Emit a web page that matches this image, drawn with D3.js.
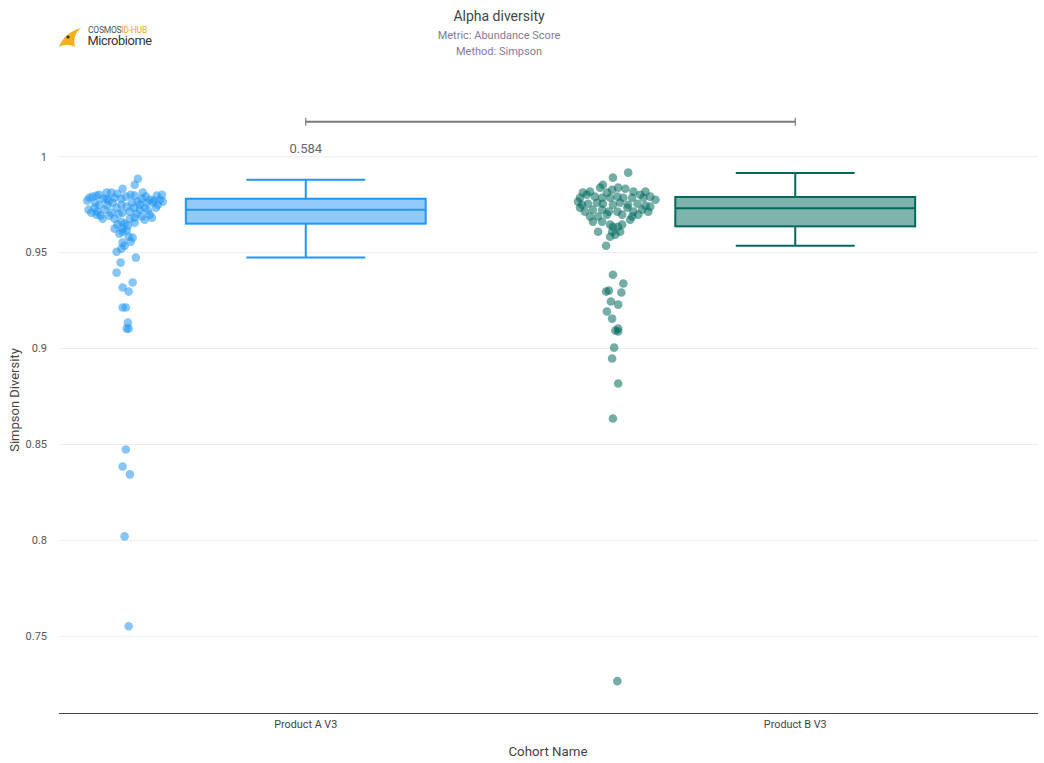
<!DOCTYPE html>
<html><head><meta charset="utf-8">
<script src="https://cdn.jsdelivr.net/npm/d3@7"></script>
<style>body{margin:0;background:#fff;font-family:Roboto,"Noto Sans",sans-serif;}</style>
</head><body>
<svg id="chart" width="1044" height="763"></svg>
<script>
const categories = ["Product A V3", "Product B V3"];
const colors = ["#2196F3", "#00695C"];
const yTicks = [0.75, 0.8, 0.85, 0.9, 0.95, 1];
// box stats: [lowWhisker, q1, median, q3, highWhisker]
const boxA = [0.9474, 0.9651, 0.9724, 0.9781, 0.9880];
const boxB = [0.9536, 0.9637, 0.9731, 0.9790, 0.9915];
const pValue = "0.584";
const bracketLevel = 1.0182;

const valuesA = [0.9885,0.9854,0.9833,0.9792,0.9786,0.9797,0.9813,0.9813,0.9781,0.9786,0.9781,0.9802,0.9797,0.9813,0.9781,0.9776,0.9771,0.9802,0.9766,0.9760,
0.9750,0.9745,0.9760,0.9750,0.9760,0.9766,0.9760,0.9760,0.9708,0.9714,0.9677,0.9708,0.9703,0.9708,0.9714,0.9724,0.9688,0.9698,0.9682,0.9698,
0.9677,0.9661,0.9651,0.9682,0.9656,0.9625,0.9625,0.9609,0.9615,0.9583,0.9578,0.9552,0.9505,0.9521,0.9536,0.9474,0.9448,0.9396,0.9344,0.9318,
0.9297,0.9214,0.9214,0.9135,0.9104,0.9104,0.8474,0.8385,0.8344,0.8021,0.7552,0.9802,0.9781,0.9807,0.9792,0.9792,0.9797,0.9771,0.9724,0.9734,
0.9740,0.9734,0.9750,0.9734,0.9693,0.9677,0.9672,0.9646,0.9641,0.9750,0.9771,0.9734,0.9693,0.9776,0.9734,0.9599,0.9557,0.9703,0.9724,0.9719];
const jitterA = [0.33,0.25,-0.05,-0.8,-0.88,-0.7,-0.45,-0.33,-0.45,-0.25,-0.08,0.15,0.25,0.45,0.43,0.63,0.73,0.93,0.95,-0.73,
-0.63,-0.43,-0.3,-0.08,0.18,0.33,0.55,0.7,-0.83,-0.68,-0.55,-0.33,-0.15,-0.05,0.13,0.38,0.43,0.63,0.68,-0.7,
-0.25,-0.08,0,0.25,0.25,-0.25,-0.05,-0.05,0.05,0.1,0.2,-0.05,-0.2,-0.08,0,0.28,-0.1,-0.2,0.2,-0.05,
0.1,-0.05,0.03,0.08,0.05,0.1,0.03,-0.05,0.13,0,0.1,-0.63,-0.53,-0.18,0.03,0.53,0.8,-0.93,-0.5,-0.2,
0.05,0.5,0.83,-0.75,-0.38,0.13,0.5,-0.18,0.08,0.38,-0.4,0.78,-0.6,0.88,0.23,-0.13,0.15,0.3,-0.9,0.58];

const valuesB = [0.9891,0.9917,0.9854,0.9828,0.9839,0.9833,0.9818,0.9802,0.9792,0.9813,0.9818,0.9792,0.9786,0.9786,0.9792,0.9786,0.9786,0.9786,0.9786,0.9750,
0.9755,0.9760,0.9755,0.9750,0.9760,0.9750,0.9755,0.9745,0.9740,0.9734,0.9714,0.9724,0.9724,0.9714,0.9714,0.9734,0.9714,0.9724,0.9714,0.9688,
0.9688,0.9698,0.9698,0.9688,0.9698,0.9661,0.9661,0.9672,0.9609,0.9646,0.9635,0.9635,0.9609,0.9609,0.9594,0.9583,0.9646,0.9536,0.9839,0.9802,
0.9813,0.9818,0.9776,0.9766,0.9385,0.9339,0.9297,0.9302,0.9292,0.9245,0.9229,0.9193,0.9156,0.9094,0.9089,0.9104,0.9005,0.8948,0.8818,0.8635,0.7266];
const jitterB = [-0.03,0.35,-0.28,-0.05,0.1,0.28,0.48,0.65,0.9,-0.78,-0.6,-0.48,-0.3,-0.1,0.08,0.23,0.45,0.73,-0.85,-0.8,
-0.65,-0.43,-0.28,-0.03,0.15,0.35,0.58,0.78,0.9,-0.85,-0.73,-0.53,-0.3,-0.13,0.08,0.33,0.48,0.7,0.85,-0.6,
-0.4,-0.18,0.2,0.45,0.6,-0.53,-0.3,0.4,-0.4,-0.1,-0.03,0.1,0.15,-0.05,0.03,-0.1,0.2,-0.2,-0.35,-0.68,
-0.18,0.78,1.03,-0.9,-0.03,0.23,-0.2,-0.13,0.18,-0.08,0.1,-0.18,-0.05,0.03,0.1,0.1,0,-0.05,0.1,-0.03,0.08];

const boxes = [boxA, boxB];
const pointSets = [[valuesA, jitterA], [valuesB, jitterB]];

const svg = d3.select("#chart");
const x = d3.scaleBand().domain(categories).range([61, 1040]).padding(0);
const y = d3.scaleLinear().domain([0.71, 1.04]).range([713, 80]);
const bw = x.bandwidth();
const cx = c => x(c) + bw / 2;
const jit = d3.scaleLinear().domain([-1, 1]).range([-bw * 0.082, bw * 0.082]);

// gridlines
svg.append("g").selectAll("line").data(yTicks).join("line")
  .attr("x1", 59).attr("x2", 1038).attr("y1", d => y(d)).attr("y2", d => y(d))
  .attr("stroke", "#ececec").attr("stroke-width", 1);

// y tick labels
svg.append("g").selectAll("text").data(yTicks).join("text")
  .attr("x", 47).attr("y", d => y(d)).attr("dy", "0.35em").attr("text-anchor", "end")
  .attr("font-size", 11).attr("fill", "#555").text(d => d3.format("")(d));

// x axis
const xAxis = svg.append("g").attr("transform", "translate(0,713)")
  .call(d3.axisBottom(x).tickSize(0).tickPadding(7));
xAxis.select(".domain").attr("stroke", "#444").attr("d", "M59,0.5H1038");
xAxis.selectAll("text").attr("font-size", 10.8).attr("fill", "#444").attr("font-family", "Roboto");

// axis titles
svg.append("text").attr("x", 548).attr("y", 756).attr("text-anchor", "middle")
  .attr("font-size", 13.3).attr("fill", "#444").text("Cohort Name");
svg.append("text").attr("transform", "translate(19,400) rotate(-90)").attr("text-anchor", "middle")
  .attr("font-size", 13).attr("fill", "#444").text("Simpson Diversity");

// title
svg.append("text").attr("x", 499).attr("y", 21).attr("text-anchor", "middle")
  .attr("font-size", 14).attr("fill", "#444").text("Alpha diversity");
svg.append("text").attr("x", 499).attr("y", 39).attr("text-anchor", "middle")
  .attr("font-size", 11).attr("fill", "#857a93").text("Metric: Abundance Score");
svg.append("text").attr("x", 499).attr("y", 55).attr("text-anchor", "middle")
  .attr("font-size", 11).attr("fill", "#857a93").text("Method: Simpson");

// logo
const logo = svg.append("g").attr("transform", "translate(58,24)");
logo.append("path").attr("d", "M1,23 C4,14 12,7 23,4 C17,9 15,15 17,23 C12,20 7,20 1,23 Z").attr("fill", "#f2b01e");
logo.append("circle").attr("cx", 10).attr("cy", 13).attr("r", 1.6).attr("fill", "#333");
const lt = logo.append("text").attr("x", 30).attr("y", 9).attr("font-size", 8.6).attr("fill", "#555").attr("letter-spacing", -0.3);
lt.append("tspan").text("COSMOS");
lt.append("tspan").attr("fill", "#f2a51e").text("ID-HUB");
logo.append("text").attr("x", 29.5).attr("y", 21).attr("font-size", 12.8).attr("fill", "#333").attr("letter-spacing", -0.4).text("Microbiome");

// points
categories.forEach((c, i) => {
  const [vals, jits] = pointSets[i];
  const px = cx(c) - bw * 0.37;
  svg.append("g").selectAll("circle").data(vals).join("circle")
    .attr("cx", (d, k) => px + jit(jits[k]))
    .attr("cy", d => y(d)).attr("r", 4.3)
    .attr("fill", colors[i]).attr("fill-opacity", 0.55);
});

// boxes
categories.forEach((c, i) => {
  const b = boxes[i];
  const g = svg.append("g");
  const c0 = cx(c), hw = bw * 0.245, cw = bw * 0.1215;
  const col = colors[i];
  g.append("line").attr("x1", c0).attr("x2", c0).attr("y1", y(b[4])).attr("y2", y(b[3])).attr("stroke", col).attr("stroke-width", 2);
  g.append("line").attr("x1", c0).attr("x2", c0).attr("y1", y(b[1])).attr("y2", y(b[0])).attr("stroke", col).attr("stroke-width", 2);
  g.append("line").attr("x1", c0 - cw).attr("x2", c0 + cw).attr("y1", y(b[4])).attr("y2", y(b[4])).attr("stroke", col).attr("stroke-width", 2);
  g.append("line").attr("x1", c0 - cw).attr("x2", c0 + cw).attr("y1", y(b[0])).attr("y2", y(b[0])).attr("stroke", col).attr("stroke-width", 2);
  g.append("rect").attr("x", c0 - hw).attr("width", 2 * hw).attr("y", y(b[3])).attr("height", y(b[1]) - y(b[3]))
    .attr("fill", col).attr("fill-opacity", 0.5).attr("stroke", col).attr("stroke-width", 2);
  g.append("line").attr("x1", c0 - hw).attr("x2", c0 + hw).attr("y1", y(b[2])).attr("y2", y(b[2])).attr("stroke", col).attr("stroke-width", 2);
});

// significance bracket
const by = y(bracketLevel);
const bx1 = cx(categories[0]), bx2 = cx(categories[1]);
const br = svg.append("g").attr("stroke", "#7a7a7a").attr("stroke-width", 2);
br.append("line").attr("x1", bx1).attr("x2", bx2).attr("y1", by).attr("y2", by);
br.append("line").attr("x1", bx1).attr("x2", bx1).attr("y1", by - 4).attr("y2", by + 4).attr("stroke-width", 1.2);
br.append("line").attr("x1", bx2).attr("x2", bx2).attr("y1", by - 4).attr("y2", by + 4).attr("stroke-width", 1.2);
svg.append("text").attr("x", bx1).attr("y", by + 31).attr("text-anchor", "middle")
  .attr("font-size", 13).attr("fill", "#666").text(pValue);
</script>
</body></html>
